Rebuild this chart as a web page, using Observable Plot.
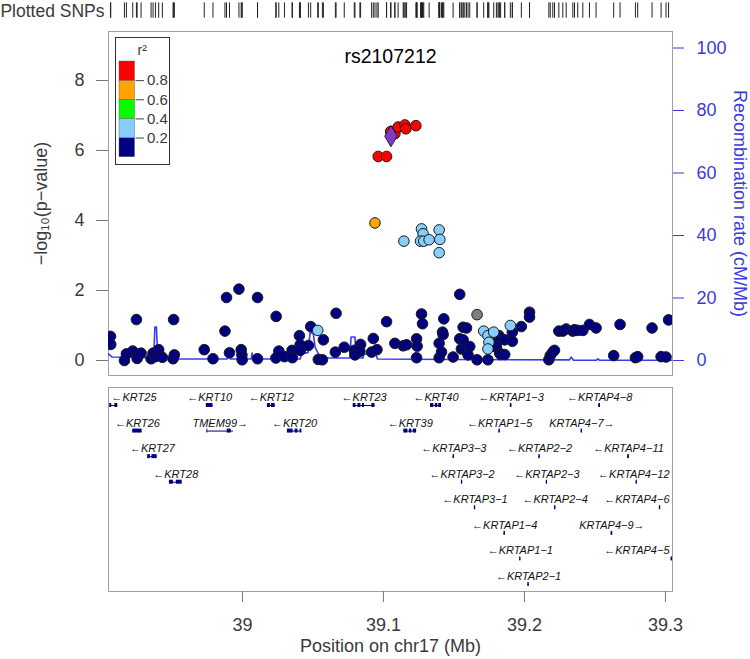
<!DOCTYPE html>
<html><head><meta charset="utf-8">
<script src="https://cdn.jsdelivr.net/npm/d3@7"></script>
<script src="https://cdn.jsdelivr.net/npm/@observablehq/plot@0.6"></script>
<style>
body{margin:0;background:#fff;}
#wrap{position:relative;width:750px;height:659px;overflow:hidden;background:#fff;}
#wrap > svg{position:absolute;}
</style></head><body><div id="wrap"></div>
<script>
// ---------- data ----------
const snpPos = [38.9064,38.9066,38.9163,38.9177,38.9222,38.9253,38.9281,38.9248,38.9352,38.9366,38.9383,38.9406,38.9432,38.9508,38.9517,38.9512,38.9729,38.9791,38.9876,38.9887,38.9975,39.0107,38.9908,38.9991,38.9996,38.9998,39.0107,39.0239,39.0237,39.0258,39.0298,39.0352,39.0354,39.0404,39.0409,39.0411,39.0468,39.0484,39.0574,39.0538,39.0567,39.0664,39.0659,39.0722,39.0793,39.0798,39.0838,39.0833,39.0928,39.0916,39.0954,39.1022,39.1081,39.1140,39.1164,39.1235,39.1239,39.1235,39.1270,39.1277,39.1395,39.1395,39.1412,39.1419,39.1423,39.1428,39.1494,39.1541,39.1541,39.1553,39.1565,39.1565,39.1589,39.1577,39.1612,39.1600,39.1664,39.1741,39.1819,39.1812,39.1801,39.1824,39.1831,39.1860,39.1860,39.1914,39.1914,39.1978,39.2036,39.2036,39.2173,39.2183,39.2201,39.2213,39.2244,39.2272,39.2296,39.2343,39.2355,39.2378,39.2414,39.2461,39.2508,39.2633,39.2678,39.2787,39.2803,39.2905,39.2969,39.3004,39.3022,
  39.0534,39.1145,39.1270,39.1281,39.1263,39.1286,39.1324,39.1395,39.1400,39.1395,39.1711,39.1741,39.1782,39.1748,39.1741,39.1900,
  39.1664,
  39.0940,
  39.0963,39.1022,39.1051,39.1081,39.1104,39.1152,39.1159,39.1230];
const snpLogP = [0.69,0.46,0.00,0.19,0.27,0.06,0.21,1.17,0.05,0.21,0.11,0.31,0.09,0.05,0.16,1.17,0.31,0.05,0.84,1.80,2.04,1.80,0.22,0.31,0.16,0.02,0.05,1.26,0.07,0.27,0.11,0.29,0.08,0.71,0.45,0.29,0.43,0.97,0.59,0.03,0.02,1.35,0.24,0.38,0.29,0.16,0.46,0.26,0.63,0.24,0.31,1.11,0.49,0.42,0.45,0.62,0.41,0.08,1.33,1.05,0.49,0.08,0.24,0.81,0.74,1.19,0.10,1.89,0.62,0.33,0.59,0.95,0.93,0.33,0.40,0.16,0.02,0.02,0.71,0.55,0.38,0.21,0.17,0.17,0.59,0.81,0.55,0.97,1.38,1.24,0.02,0.14,0.24,0.29,0.84,0.84,0.90,0.84,0.88,0.86,0.86,1.03,0.93,0.14,1.03,0.08,0.11,0.93,0.11,0.10,1.16,
  0.86,3.41,3.76,3.62,3.41,3.41,3.45,3.73,3.46,3.08,0.84,0.71,0.81,0.52,0.33,1.00,
  1.31,
  3.93,
  5.83,5.83,6.54,6.48,6.67,6.73,6.62,6.71];
const snpR2 = [].concat(Array(111).fill(0.1), Array(16).fill(0.3), [null], [0.7], Array(8).fill(0.9));
const indexSnp = "rs2107212";
const indexPos = 39.1053;
const indexLogP = 6.41;

const recombPos  = [38.9050,38.9076,38.9371,38.9379,38.9390,38.9399,38.9503,38.9512,38.9892,38.9903,38.9913,39.0062,39.0069,39.0078,39.0409,39.0421,39.0466,39.0480,39.0503,39.0515,39.0550,39.0579,39.0763,39.0770,39.0798,39.0805,39.0855,39.0862,39.0947,39.0957,39.1470,39.2319,39.2331,39.2348,39.2510,39.2521,39.2532,39.3042];
const recombRate = [2.1,1.1,0.9,10.7,10.7,0.9,0.9,0.5,0.5,1.4,0.5,0.5,2.4,0.5,0.5,2.1,2.6,9.1,8.5,4.3,1.1,0.8,0.8,7.5,7.5,0.8,0.8,2.1,2.1,0.5,0.3,0.2,1.1,0.1,0.1,0.5,0.1,0.1];

const r2Breaks = [0.2, 0.4, 0.6, 0.8];
const r2Colors = ["#000080", "#87CEFA", "#00FF00", "#FFA500", "#FF0000"];
const logPTicks = [0, 2, 4, 6, 8];
const recombTicks = [0, 20, 40, 60, 80, 100];
const xTicks = [39, 39.1, 39.2, 39.3];

const geneNames  = ["KRT25","KRT10","KRT12","KRT23","KRT40","KRTAP1-3","KRTAP4-8",
  "KRT26","TMEM99","KRT20","KRT39","KRTAP1-5","KRTAP4-7",
  "KRT27","KRTAP3-3","KRTAP2-2","KRTAP4-11",
  "KRT28","KRTAP3-2","KRTAP2-3","KRTAP4-12",
  "KRTAP3-1","KRTAP2-4","KRTAP4-6",
  "KRTAP1-4","KRTAP4-9",
  "KRTAP1-1","KRTAP4-5",
  "KRTAP2-1"];
const geneStrand = ["-","-","-","-","-","-","-", "-","+","-","-","-","+", "-","-","-","-", "-","-","-","-", "-","-","-", "-","+", "-","-", "-"];
const geneRow    = [1,1,1,1,1,1,1, 2,2,2,2,2,2, 3,3,3,3, 4,4,4,4, 5,5,5, 6,6, 7,7, 8];
const geneStart  = [38.9059,38.9744,39.0177,39.0786,39.1334,39.1900,39.2527, 38.9222,38.9748,39.0319,39.1145,39.1819,39.2402, 38.9328,39.1494,39.2102,39.2732, 38.9482,39.1553,39.2155,39.2792, 39.1645,39.2213,39.2957, 39.1855,39.2615, 39.1966,39.3040, 39.2024];
const geneEnd    = [38.9116,38.9791,39.0232,39.0940,39.1412,39.1911,39.2539, 38.9288,38.9937,39.0421,39.1235,39.1829,39.2412, 38.9395,39.1504,39.2112,39.2744, 38.9572,39.1562,39.2164,39.2801, 39.1654,39.2223,39.2966, 39.1865,39.2626, 39.1975,39.3052, 39.2034];
const geneExons  = {
  "KRT25": [[38.9059,38.9073],[38.9095,38.9116]],
  "KRT12": [[39.0177,39.0199],[39.0206,39.0232]],
  "KRT23": [[39.0786,39.0805],[39.0819,39.0840],[39.0851,39.0865],[39.0918,39.0940]],
  "KRT40": [[39.1334,39.1357],[39.1368,39.1385],[39.1392,39.1412]],
  "TMEM99": [[38.9748,38.9754],[38.9892,38.9920]],
  "KRT20": [[39.0319,39.0359],[39.0373,39.0394],[39.0409,39.0421]],
  "KRT39": [[39.1145,39.1173],[39.1184,39.1201],[39.1212,39.1235]],
  "KRT27": [[38.9328,38.9347],[38.9358,38.9395]],
  "KRT28": [[38.9482,38.9510],[38.9531,38.9572]]
};

// ---------- build ----------
const FONT = '"Liberation Sans", Arial, Helvetica, sans-serif';
const BLUE = "#3a3ad8";
const LINEBLUE = "#3b3bf2";
const xDomain = [38.905, 39.305];
const f = 3.125 / 35; // recombination units -> -log10(p) units

const snps = snpPos.map((p, i) => ({pos: p, logp: snpLogP[i], r2: snpR2[i]}));
const colored = snps.filter(d => d.r2 != null).sort((a, b) => a.r2 - b.r2);
const gray = snps.filter(d => d.r2 == null);
const rug = snps.concat([{pos: indexPos}]);
const recomb = recombPos.map((p, i) => ({pos: p, rate: recombRate[i]}));

const wrap = document.getElementById("wrap");

const chartA = Plot.plot({
  width: 750, height: 380,
  marginLeft: 108, marginRight: 78, marginTop: 31, marginBottom: 5,
  style: {fontFamily: FONT, background: "transparent", overflow: "visible"},
  x: {domain: xDomain, axis: null},
  y: {domain: [-15/35, 9.4], axis: null},
  color: {type: "threshold", domain: r2Breaks, range: r2Colors},
  marks: [
    Plot.frame({stroke: "#a0a0a0"}),
    Plot.ruleX(rug, {x: "pos", insetTop: -28.6, insetBottom: 357.3, stroke: "#222", strokeWidth: 1}),
    Plot.line(recomb, {x: "pos", y: d => d.rate * f, stroke: LINEBLUE, strokeWidth: 1.6, clip: true}),
    Plot.dot(colored, {x: "pos", y: "logp", fill: "r2", r: 5.3, stroke: "#1a1a1a", strokeWidth: 1, clip: true}),
    Plot.dot(gray, {x: "pos", y: "logp", fill: "#7f7f7f", r: 5.3, stroke: "#1a1a1a", strokeWidth: 1, clip: true}),
    Plot.dot([{pos: indexPos, logp: indexLogP}], {x: "pos", y: "logp", symbol: "diamond", fill: "#7d3acb", r: 6.5, stroke: "#1a1a1a", strokeWidth: 0.9}),
    Plot.axisY({ticks: logPTicks, tickSize: 12, tickPadding: 12, fontSize: 18, label: null, stroke: "#777", fill: "#3a3a3a", tickFormat: d => String(d)}),
    Plot.axisY({ticks: recombTicks.map(v => v * f), anchor: "right", tickSize: 11, tickPadding: 13, fontSize: 18, label: null, color: BLUE, tickFormat: d => String(Math.round(d / f))}),
    Plot.text([indexSnp], {frameAnchor: "top", lineAnchor: "middle", dy: 25, fontSize: 19.5, fill: "#000"}),
    Plot.text(["Plotted SNPs"], {frameAnchor: "top-left", textAnchor: "end", lineAnchor: "middle", dx: -4, dy: -20.5, fontSize: 17.5, fill: "#3a3a3a"}),
    Plot.text(["\u2212log\u2081\u2080(p\u2212value)"], {frameAnchor: "left", textAnchor: "middle", lineAnchor: "middle", rotate: -90, dx: -67, fontSize: 18, fill: "#3a3a3a"}),
    Plot.text(["Recombination rate (cM/Mb)"], {frameAnchor: "right", textAnchor: "middle", lineAnchor: "middle", rotate: 90, dx: 67, fontSize: 18, fill: BLUE})
  ]
});
chartA.style.left = "0px"; chartA.style.top = "0px";
wrap.appendChild(chartA);

// legend
const legendBins = r2Colors.map((c, i) => ({lo: i * 0.2, hi: (i + 1) * 0.2, mid: i * 0.2 + 0.1}));
const legend = Plot.plot({
  width: 53, height: 126,
  marginLeft: 3, marginRight: 34.5, marginTop: 23, marginBottom: 7.3,
  style: {fontFamily: FONT, background: "#fff", overflow: "visible", border: "1px solid #333"},
  x: {domain: [0, 1], axis: null},
  y: {domain: [0, 1], axis: null},
  color: {type: "threshold", domain: r2Breaks, range: r2Colors},
  marks: [
    Plot.rect(legendBins, {x1: 0, x2: 1, y1: "lo", y2: "hi", fill: "mid", stroke: "#555", strokeWidth: 0.4}),
    Plot.axisY({ticks: r2Breaks, anchor: "right", tickSize: 8.5, tickPadding: 3.5, fontSize: 15, label: null, stroke: "#444", fill: "#3a3a3a", tickFormat: d => d.toFixed(1)}),
    Plot.text(["r\u00b2"], {frameAnchor: "top", lineAnchor: "middle", dx: 15, dy: -11, fontSize: 14, fill: "#3a3a3a"})
  ]
});
legend.style.left = "114.5px"; legend.style.top = "37px";
wrap.appendChild(legend);

// genes
const xs = Plot.scale({x: {domain: xDomain, range: [108, 672]}});
const ctx = document.createElement("canvas").getContext("2d");
ctx.font = `italic 11px ${FONT}`;
const genes = geneNames.map((name, i) => {
  const nm = name.replace("-", "\u2212");
  const label = geneStrand[i] === "-" ? "\u2190" + nm : nm + "\u2192";
  const w = ctx.measureText(label).width;
  let cx = xs.apply((geneStart[i] + geneEnd[i]) / 2);
  cx = Math.max(108 + 3 + w / 2, Math.min(672 - 3 - w / 2, cx));
  return {name, label, start: geneStart[i], end: geneEnd[i], row: geneRow[i], labelX: xs.invert(cx)};
});
const exons = genes.flatMap(g => (geneExons[g.name] || [[g.start, g.end]]).map(([s, e]) => ({start: s, end: e, row: g.row})));

const chartB = Plot.plot({
  width: 750, height: 279,
  marginLeft: 108, marginRight: 78, marginTop: 7, marginBottom: 68,
  style: {fontFamily: FONT, background: "transparent", overflow: "visible"},
  x: {domain: xDomain},
  y: {domain: [0.609, 8.587], reverse: true, axis: null},
  marks: [
    Plot.frame({stroke: "#a0a0a0"}),
    Plot.ruleY(genes, {x1: "start", x2: "end", y: "row", dy: 8, stroke: "#000080", strokeWidth: 1, clip: true}),
    Plot.rect(exons, {x1: "start", x2: "end", y1: "row", y2: "row", dy: 8, insetTop: -2, insetBottom: -2, fill: "#000080", clip: true}),
    Plot.text(genes, {x: "labelX", y: "row", text: "label", fontStyle: "italic", fontSize: 11, fill: "#111"}),
    Plot.axisX({ticks: xTicks, tickSize: 11, tickPadding: 16, fontSize: 18, label: null, stroke: "#777", fill: "#3a3a3a", tickFormat: d => String(d)}),
    Plot.text(["Position on chr17 (Mb)"], {frameAnchor: "bottom", lineAnchor: "middle", dy: 55, fontSize: 18, fill: "#3a3a3a"})
  ]
});
chartB.style.left = "0px"; chartB.style.top = "380px";
wrap.appendChild(chartB);
</script>
</body></html>
